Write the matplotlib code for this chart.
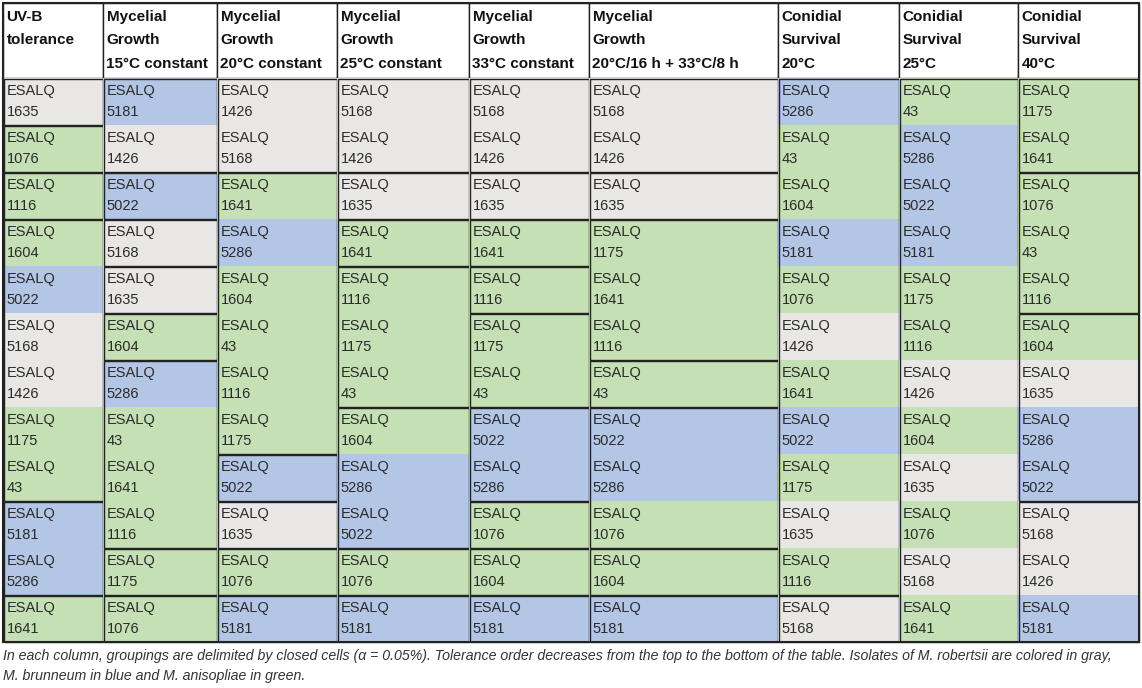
import matplotlib
matplotlib.use("Agg")
import matplotlib.pyplot as plt
from matplotlib.patches import Rectangle

# column headers (three lines each)
headers = [
    ["UV-B", "tolerance", ""],
    ["Mycelial", "Growth", "15°C constant"],
    ["Mycelial", "Growth", "20°C constant"],
    ["Mycelial", "Growth", "25°C constant"],
    ["Mycelial", "Growth", "33°C constant"],
    ["Mycelial", "Growth", "20°C/16 h + 33°C/8 h"],
    ["Conidial", "Survival", "20°C"],
    ["Conidial", "Survival", "25°C"],
    ["Conidial", "Survival", "40°C"],
]

# isolate order in each column (top = most tolerant)
uvb = ["1635", "1076", "1116", "1604", "5022", "5168", "1426", "1175", "43", "5181", "5286", "1641"]
myc15 = ["5181", "1426", "5022", "5168", "1635", "1604", "5286", "43", "1641", "1116", "1175", "1076"]
myc20 = ["1426", "5168", "1641", "5286", "1604", "43", "1116", "1175", "5022", "1635", "1076", "5181"]
myc25 = ["5168", "1426", "1635", "1641", "1116", "1175", "43", "1604", "5286", "5022", "1076", "5181"]
myc33 = ["5168", "1426", "1635", "1641", "1116", "1175", "43", "5022", "5286", "1076", "1604", "5181"]
myc_cycle = ["5168", "1426", "1635", "1175", "1641", "1116", "43", "5022", "5286", "1076", "1604", "5181"]
con20 = ["5286", "43", "1604", "5181", "1076", "1426", "1641", "5022", "1175", "1635", "1116", "5168"]
con25 = ["43", "5286", "5022", "5181", "1175", "1116", "1426", "1604", "1635", "1076", "5168", "1641"]
con40 = ["1175", "1641", "1076", "43", "1116", "1604", "1635", "5286", "5022", "5168", "1426", "5181"]
columns = [uvb, myc15, myc20, myc25, myc33, myc_cycle, con20, con25, con40]

# sizes of the closed groupings, top to bottom
groups = [
    [1, 1, 1, 6, 2, 1],
    [2, 1, 1, 1, 1, 4, 1, 1],
    [2, 6, 1, 1, 1, 1],
    [2, 1, 1, 3, 3, 1, 1],
    [2, 1, 1, 1, 2, 2, 1, 1, 1],
    [2, 1, 3, 1, 3, 1, 1],
    [11, 1],
    [12],
    [2, 3, 4, 3],
]

# species of each isolate
robertsii = ["1635", "5168", "1426"]
brunneum = ["5022", "5181", "5286"]
anisopliae = ["1076", "1116", "1604", "1175", "43", "1641"]

note = ("In each column, groupings are delimited by closed cells (α = 0.05%). "
        "Tolerance order decreases from the top to the bottom of the table. "
        "Isolates of M. robertsii are colored in gray,\n"
        "M. brunneum in blue and M. anisopliae in green.")

# layout (pixels)
col_w = [100, 114, 120, 132, 120, 189, 121, 119, 121]
x0, y0 = 3, 3
head_h = 75
row_h = 47
colors = {"gray": "#e8e7e6", "blue": "#b4c6e6", "green": "#c5e0b4"}
edge = "#222222"

species_color = {}
for iso in robertsii:
    species_color[iso] = colors["gray"]
for iso in brunneum:
    species_color[iso] = colors["blue"]
for iso in anisopliae:
    species_color[iso] = colors["green"]

plt.rcParams['font.family'] = ['Liberation Sans', 'DejaVu Sans']

fig = plt.figure(figsize=(11.42, 6.88), dpi=100)
ax = fig.add_axes([0, 0, 1, 1])
ax.set_xlim(0, 1142)
ax.set_ylim(688, 0)
ax.axis('off')

xs = [x0]
for w in col_w:
    xs.append(xs[-1] + w)
body_top = y0 + head_h
n_rows = len(uvb)

for c, (hdr, col) in enumerate(zip(headers, columns)):
    left, w = xs[c], col_w[c]
    # header
    ax.add_patch(Rectangle((left, y0), w, head_h, facecolor='white',
                           edgecolor=edge, lw=1.0))
    for k, line in enumerate(hdr):
        ax.text(left + 3.5, y0 + 14 + k * 23.5, line, fontsize=11,
                fontweight='bold', color='#111111', va='center', ha='left')
    # cells
    for r, iso in enumerate(col):
        top = body_top + r * row_h
        ax.add_patch(Rectangle((left, top), w, row_h,
                               facecolor=species_color[iso], edgecolor='none'))
        ax.text(left + 3.5, top + 13, "ESALQ", fontsize=10.5, color='#2b2b2b',
                va='center', ha='left')
        ax.text(left + 3.5, top + 34, iso, fontsize=10.5, color='#2b2b2b',
                va='center', ha='left')
    # group boxes
    start = 0
    for g in groups[c]:
        top = body_top + start * row_h
        ax.add_patch(Rectangle((left + 0.5, top + 0.5), w - 1.0, g * row_h - 1.0,
                               facecolor='none', edgecolor=edge, lw=1.0))
        start += g

# outer frame
ax.add_patch(Rectangle((x0, y0), xs[-1] - x0, head_h + n_rows * row_h,
                       facecolor='none', edgecolor=edge, lw=1.5))

ax.text(x0, body_top + n_rows * row_h + 24, note, fontsize=10.2, style='italic',
        color='#333333', va='center', ha='left', linespacing=1.6)

fig.savefig("out.png", dpi=100)
